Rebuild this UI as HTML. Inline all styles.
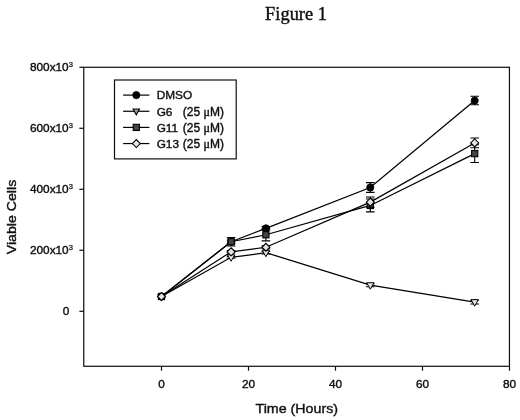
<!DOCTYPE html>
<html><head><meta charset="utf-8"><title>Figure 1</title>
<style>
html,body{margin:0;padding:0;background:#fff;}
body{width:520px;height:420px;overflow:hidden;}
svg{display:block;}
.tk{font-family:"Liberation Sans",sans-serif;font-size:11.8px;fill:#111;stroke:#111;stroke-width:0.4px;}
.tt{font-family:"Liberation Serif",serif;font-size:18.4px;fill:#111;stroke:#111;stroke-width:0.4px;}
.ax{font-family:"Liberation Sans",sans-serif;font-size:13.6px;fill:#111;stroke:#111;stroke-width:0.4px;}
.lg{font-family:"Liberation Sans",sans-serif;font-size:11.8px;fill:#111;stroke:#111;stroke-width:0.4px;}
.mu{font-family:"Liberation Serif",serif;font-size:12px;}
</style></head><body>
<svg width="520" height="420" viewBox="0 0 520 420">
<rect width="520" height="420" fill="#fff"/>
<defs><filter id="bl" x="0" y="0" width="100%" height="100%" filterUnits="userSpaceOnUse"><feGaussianBlur stdDeviation="0.45"/></filter></defs><g filter="url(#bl)">
<text x="296" y="20.3" text-anchor="middle" class="tt">Figure 1</text>
<rect x="83.75" y="67.3" width="425.70" height="299.00" fill="none" stroke="#111" stroke-width="1.2"/>
<line x1="79.35" y1="311.30" x2="83.75" y2="311.30" stroke="#111" stroke-width="1.2"/>
<text x="69.2" y="315.10" text-anchor="end" class="tk">0</text>
<line x1="79.35" y1="250.30" x2="83.75" y2="250.30" stroke="#111" stroke-width="1.2"/>
<text x="72.9" y="254.10" text-anchor="end" class="tk">200x10<tspan font-size="7.6" dy="-4.2" stroke-width="0.25">3</tspan></text>
<line x1="79.35" y1="189.30" x2="83.75" y2="189.30" stroke="#111" stroke-width="1.2"/>
<text x="72.9" y="193.10" text-anchor="end" class="tk">400x10<tspan font-size="7.6" dy="-4.2" stroke-width="0.25">3</tspan></text>
<line x1="79.35" y1="128.30" x2="83.75" y2="128.30" stroke="#111" stroke-width="1.2"/>
<text x="72.9" y="132.10" text-anchor="end" class="tk">600x10<tspan font-size="7.6" dy="-4.2" stroke-width="0.25">3</tspan></text>
<line x1="79.35" y1="67.30" x2="83.75" y2="67.30" stroke="#111" stroke-width="1.2"/>
<text x="72.9" y="71.10" text-anchor="end" class="tk">800x10<tspan font-size="7.6" dy="-4.2" stroke-width="0.25">3</tspan></text>
<line x1="161.50" y1="366.3" x2="161.50" y2="370.7" stroke="#111" stroke-width="1.2"/>
<text x="161.50" y="387.6" text-anchor="middle" class="tk">0</text>
<line x1="248.50" y1="366.3" x2="248.50" y2="370.7" stroke="#111" stroke-width="1.2"/>
<text x="248.50" y="387.6" text-anchor="middle" class="tk">20</text>
<line x1="335.50" y1="366.3" x2="335.50" y2="370.7" stroke="#111" stroke-width="1.2"/>
<text x="335.50" y="387.6" text-anchor="middle" class="tk">40</text>
<line x1="422.50" y1="366.3" x2="422.50" y2="370.7" stroke="#111" stroke-width="1.2"/>
<text x="422.50" y="387.6" text-anchor="middle" class="tk">60</text>
<line x1="509.50" y1="366.3" x2="509.50" y2="370.7" stroke="#111" stroke-width="1.2"/>
<text x="509.50" y="387.6" text-anchor="middle" class="tk">80</text>
<text x="296.8" y="412.9" text-anchor="middle" class="ax" textLength="82.5" lengthAdjust="spacingAndGlyphs">Time (Hours)</text>
<text transform="translate(16.3 217.0) rotate(-90)" text-anchor="middle" class="ax" textLength="74.5" lengthAdjust="spacingAndGlyphs">Viable Cells</text>
<polyline points="161.50,296.51 231.10,241.76 265.90,228.34 370.30,187.47 474.70,100.55" fill="none" stroke="#000" stroke-width="1.25"/>
<path d="M231.10 239.93V243.59M226.80 239.93H235.40M226.80 243.59H235.40" fill="none" stroke="#000" stroke-width="1.1"/>
<path d="M265.90 226.51V230.17M261.60 226.51H270.20M261.60 230.17H270.20" fill="none" stroke="#000" stroke-width="1.1"/>
<path d="M370.30 182.59V192.35M366.00 182.59H374.60M366.00 192.35H374.60" fill="none" stroke="#000" stroke-width="1.1"/>
<path d="M474.70 96.28V104.82M470.40 96.28H479.00M470.40 104.82H479.00" fill="none" stroke="#000" stroke-width="1.1"/>
<circle cx="161.50" cy="296.51" r="3.6" fill="#000" stroke="#000" stroke-width="0.8"/>
<circle cx="231.10" cy="241.76" r="3.6" fill="#000" stroke="#000" stroke-width="0.8"/>
<circle cx="265.90" cy="228.34" r="3.6" fill="#000" stroke="#000" stroke-width="0.8"/>
<circle cx="370.30" cy="187.47" r="3.6" fill="#000" stroke="#000" stroke-width="0.8"/>
<circle cx="474.70" cy="100.55" r="3.6" fill="#000" stroke="#000" stroke-width="0.8"/>
<polyline points="161.50,296.51 231.10,257.31 265.90,252.74 370.30,285.22 474.70,302.15" fill="none" stroke="#000" stroke-width="1.25"/>
<path d="M231.10 256.40V258.23M226.80 256.40H235.40M226.80 258.23H235.40" fill="none" stroke="#000" stroke-width="1.1"/>
<path d="M265.90 251.52V253.96M261.60 251.52H270.20M261.60 253.96H270.20" fill="none" stroke="#000" stroke-width="1.1"/>
<path d="M370.30 283.70V286.75M366.00 283.70H374.60M366.00 286.75H374.60" fill="none" stroke="#000" stroke-width="1.1"/>
<path d="M474.70 300.32V303.98M470.40 300.32H479.00M470.40 303.98H479.00" fill="none" stroke="#000" stroke-width="1.1"/>
<path d="M157.80 294.01H165.20L161.50 300.51Z" fill="#e0e0e0" stroke="#000" stroke-width="1.0" stroke-linejoin="miter"/>
<path d="M227.40 254.81H234.80L231.10 261.31Z" fill="#e0e0e0" stroke="#000" stroke-width="1.0" stroke-linejoin="miter"/>
<path d="M262.20 250.24H269.60L265.90 256.74Z" fill="#e0e0e0" stroke="#000" stroke-width="1.0" stroke-linejoin="miter"/>
<path d="M366.60 282.72H374.00L370.30 289.22Z" fill="#e0e0e0" stroke="#000" stroke-width="1.0" stroke-linejoin="miter"/>
<path d="M471.00 299.65H478.40L474.70 306.15Z" fill="#e0e0e0" stroke="#000" stroke-width="1.0" stroke-linejoin="miter"/>
<polyline points="161.50,296.51 231.10,241.76 265.90,234.75 370.30,205.47 474.70,153.62" fill="none" stroke="#000" stroke-width="1.25"/>
<path d="M231.10 237.49V246.03M226.80 237.49H235.40M226.80 246.03H235.40" fill="none" stroke="#000" stroke-width="1.1"/>
<path d="M265.90 228.65V240.85M261.60 228.65H270.20M261.60 240.85H270.20" fill="none" stroke="#000" stroke-width="1.1"/>
<path d="M370.30 199.06V211.87M366.00 199.06H374.60M366.00 211.87H374.60" fill="none" stroke="#000" stroke-width="1.1"/>
<path d="M474.70 144.77V162.46M470.40 144.77H479.00M470.40 162.46H479.00" fill="none" stroke="#000" stroke-width="1.1"/>
<rect x="158.40" y="293.41" width="6.2" height="6.2" fill="#444" stroke="#000" stroke-width="1.1"/>
<rect x="228.00" y="238.66" width="6.2" height="6.2" fill="#444" stroke="#000" stroke-width="1.1"/>
<rect x="262.80" y="231.65" width="6.2" height="6.2" fill="#444" stroke="#000" stroke-width="1.1"/>
<rect x="367.20" y="202.37" width="6.2" height="6.2" fill="#444" stroke="#000" stroke-width="1.1"/>
<rect x="471.60" y="150.52" width="6.2" height="6.2" fill="#444" stroke="#000" stroke-width="1.1"/>
<polyline points="161.50,296.51 231.10,251.83 265.90,247.25 370.30,202.11 474.70,142.94" fill="none" stroke="#000" stroke-width="1.25"/>
<path d="M231.10 250.61V253.05M226.80 250.61H235.40M226.80 253.05H235.40" fill="none" stroke="#000" stroke-width="1.1"/>
<path d="M265.90 245.73V248.78M261.60 245.73H270.20M261.60 248.78H270.20" fill="none" stroke="#000" stroke-width="1.1"/>
<path d="M370.30 196.93V207.30M366.00 196.93H374.60M366.00 207.30H374.60" fill="none" stroke="#000" stroke-width="1.1"/>
<path d="M474.70 138.06V147.82M470.40 138.06H479.00M470.40 147.82H479.00" fill="none" stroke="#000" stroke-width="1.1"/>
<path d="M157.50 296.51L161.50 292.51L165.50 296.51L161.50 300.51Z" fill="#e4e4e4" stroke="#000" stroke-width="1.1"/>
<path d="M227.10 251.83L231.10 247.83L235.10 251.83L231.10 255.83Z" fill="#e4e4e4" stroke="#000" stroke-width="1.1"/>
<path d="M261.90 247.25L265.90 243.25L269.90 247.25L265.90 251.25Z" fill="#e4e4e4" stroke="#000" stroke-width="1.1"/>
<path d="M366.30 202.11L370.30 198.11L374.30 202.11L370.30 206.11Z" fill="#e4e4e4" stroke="#000" stroke-width="1.1"/>
<path d="M470.70 142.94L474.70 138.94L478.70 142.94L474.70 146.94Z" fill="#e4e4e4" stroke="#000" stroke-width="1.1"/>
<rect x="114.5" y="80" width="121.7" height="78.9" fill="#fff" stroke="#111" stroke-width="1.2"/>
<line x1="123.1" y1="95.10" x2="149.4" y2="95.10" stroke="#000" stroke-width="1.2"/>
<circle cx="136.30" cy="95.10" r="3.6" fill="#000" stroke="#000" stroke-width="0.8"/>
<text x="156.7" y="99.40" class="lg">DMSO</text>
<line x1="123.1" y1="111.25" x2="149.4" y2="111.25" stroke="#000" stroke-width="1.2"/>
<path d="M133.10 108.95H139.50L136.30 114.85Z" fill="#a0a0a0" stroke="#000" stroke-width="1.1" stroke-linejoin="miter"/>
<text x="156.7" y="115.55" class="lg">G6</text>
<text x="182.8" y="115.55" class="lg" style="font-size:12px">(25 <tspan class="mu">μ</tspan>M)</text>
<line x1="123.1" y1="127.40" x2="149.4" y2="127.40" stroke="#000" stroke-width="1.2"/>
<rect x="133.20" y="124.30" width="6.2" height="6.2" fill="#444" stroke="#000" stroke-width="1.1"/>
<text x="156.7" y="131.70" class="lg">G11</text>
<text x="182.8" y="131.70" class="lg" style="font-size:12px">(25 <tspan class="mu">μ</tspan>M)</text>
<line x1="123.1" y1="143.55" x2="149.4" y2="143.55" stroke="#000" stroke-width="1.2"/>
<path d="M132.30 143.55L136.30 139.55L140.30 143.55L136.30 147.55Z" fill="#e4e4e4" stroke="#000" stroke-width="1.1"/>
<text x="156.7" y="147.85" class="lg">G13</text>
<text x="182.8" y="147.85" class="lg" style="font-size:12px">(25 <tspan class="mu">μ</tspan>M)</text>
</g>
</svg>
</body></html>
